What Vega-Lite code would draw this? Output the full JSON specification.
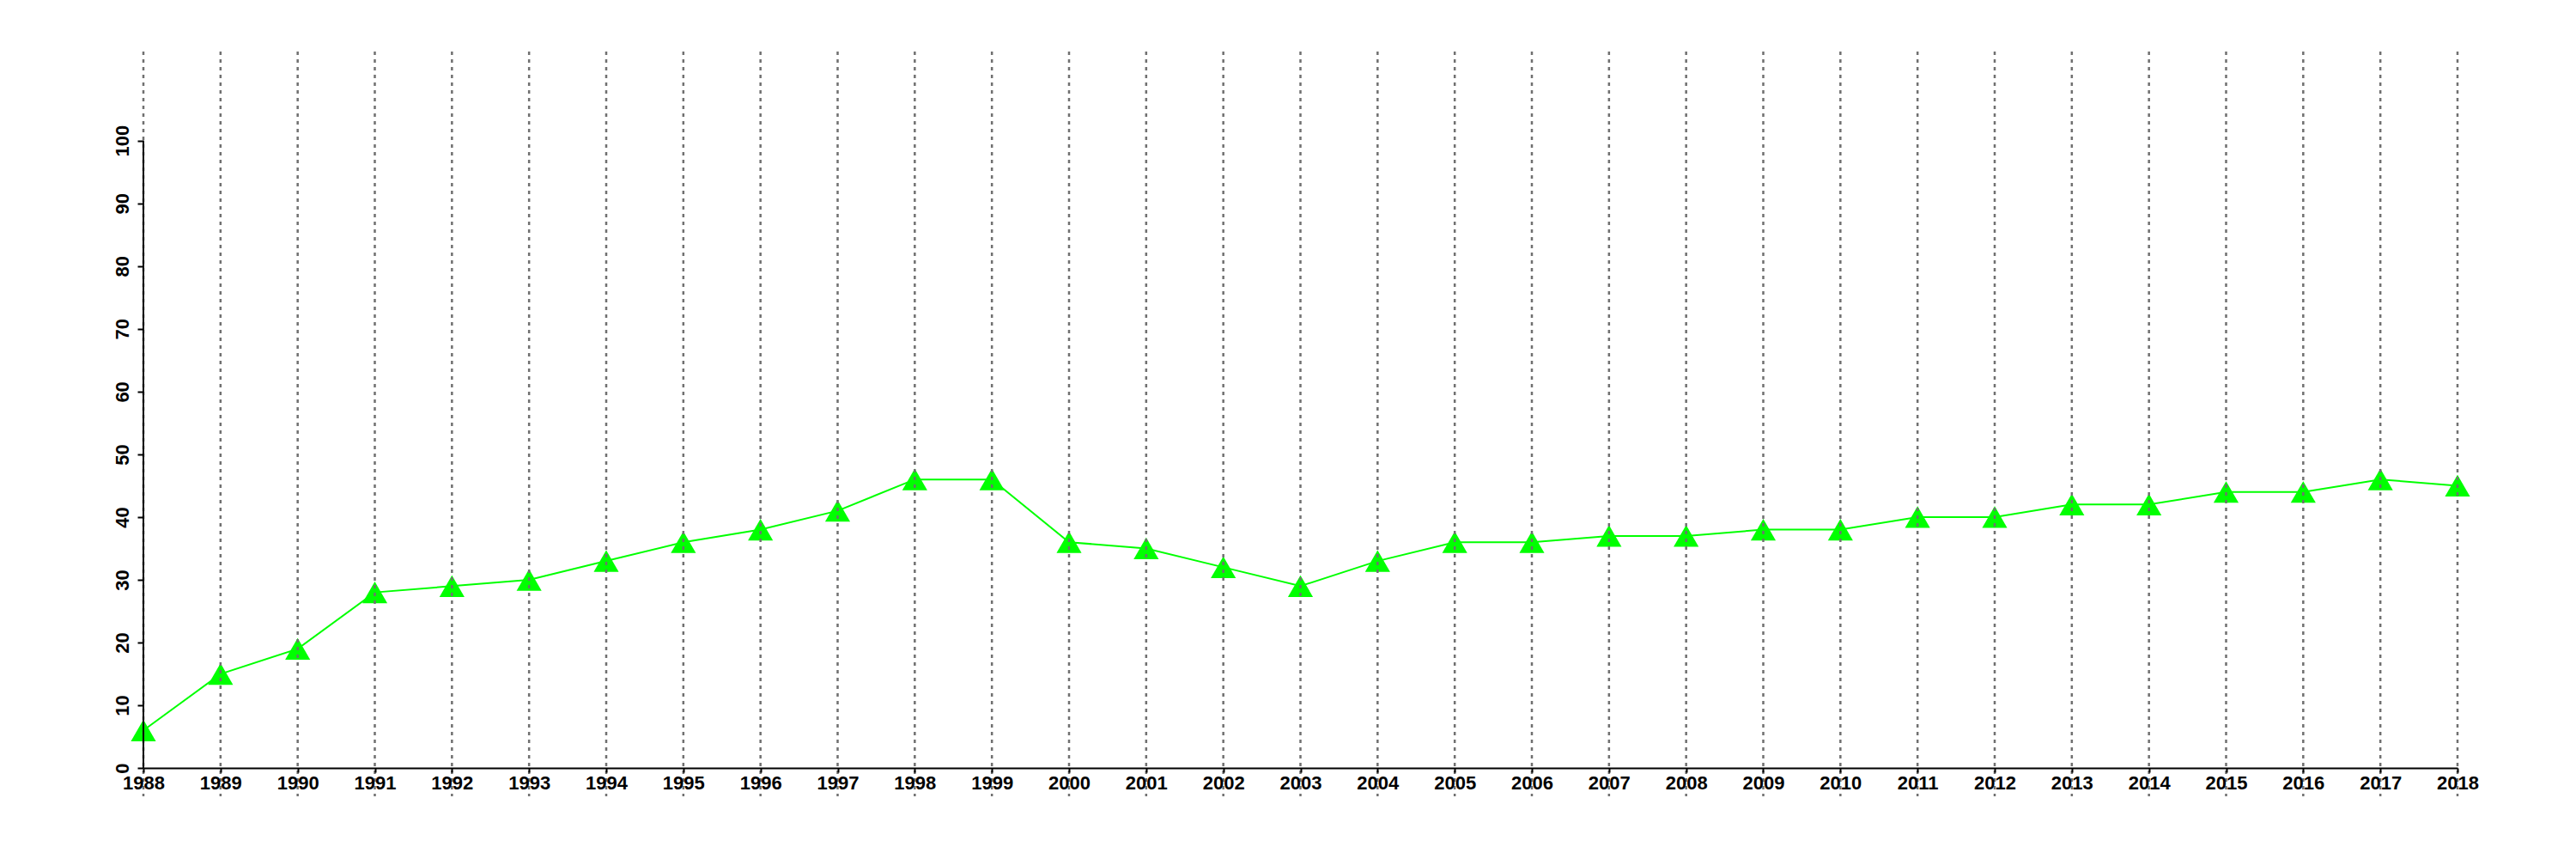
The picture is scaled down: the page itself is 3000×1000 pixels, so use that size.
{
  "$schema": "https://vega.github.io/schema/vega-lite/v6.json",
  "width": 2695,
  "height": 867,
  "autosize": {"type": "none"},
  "padding": {"left": 167, "top": 60, "right": 138, "bottom": 73},
  "background": "white",
  "config": {
    "view": {"stroke": null},
    "font": "Liberation Sans"
  },
  "datasets": {
    "series": [
      {"year": 1988, "value": 6},
      {"year": 1989, "value": 15},
      {"year": 1990, "value": 19},
      {"year": 1991, "value": 28},
      {"year": 1992, "value": 29},
      {"year": 1993, "value": 30},
      {"year": 1994, "value": 33},
      {"year": 1995, "value": 36},
      {"year": 1996, "value": 38},
      {"year": 1997, "value": 41},
      {"year": 1998, "value": 46},
      {"year": 1999, "value": 46},
      {"year": 2000, "value": 36},
      {"year": 2001, "value": 35},
      {"year": 2002, "value": 32},
      {"year": 2003, "value": 29},
      {"year": 2004, "value": 33},
      {"year": 2005, "value": 36},
      {"year": 2006, "value": 36},
      {"year": 2007, "value": 37},
      {"year": 2008, "value": 37},
      {"year": 2009, "value": 38},
      {"year": 2010, "value": 38},
      {"year": 2011, "value": 40},
      {"year": 2012, "value": 40},
      {"year": 2013, "value": 42},
      {"year": 2014, "value": 42},
      {"year": 2015, "value": 44},
      {"year": 2016, "value": 44},
      {"year": 2017, "value": 46},
      {"year": 2018, "value": 45}
    ],
    "yaxis": [{"year": 1988, "lo": 0, "hi": 100}]
  },
  "layer": [
    {
      "data": {"name": "series"},
      "mark": {"type": "line", "color": "#00FF00", "strokeWidth": 2},
      "encoding": {
        "x": {
          "field": "year",
          "type": "quantitative",
          "scale": {"domain": [1988, 2018], "nice": false, "zero": false},
          "axis": {
            "title": null,
            "values": [1988,1989,1990,1991,1992,1993,1994,1995,1996,1997,1998,1999,2000,2001,2002,2003,2004,2005,2006,2007,2008,2009,2010,2011,2012,2013,2014,2015,2016,2017,2018],
            "format": "d",
            "grid": false,
            "offset": -33,
            "domainColor": "black",
            "domainWidth": 2,
            "tickColor": "black",
            "tickWidth": 2,
            "tickSize": 5,
            "labelFont": "Liberation Sans",
            "labelFontWeight": "bold",
            "labelFontSize": 22,
            "labelColor": "black",
            "labelPadding": 2,
            "labelFlush": false,
            "labelOverlap": false,
            "zindex": 2
          }
        },
        "y": {
          "field": "value",
          "type": "quantitative",
          "scale": {"domain": [-4.5, 114.2], "nice": false, "zero": false},
          "axis": {
            "title": null,
            "values": [0,10,20,30,40,50,60,70,80,90,100],
            "grid": false,
            "domain": false,
            "tickColor": "black",
            "tickWidth": 2,
            "tickSize": 7,
            "labelFont": "Liberation Sans",
            "labelFontWeight": "bold",
            "labelFontSize": 22,
            "labelColor": "black",
            "labelAngle": -90,
            "labelAlign": "center",
            "labelBaseline": "bottom",
            "labelPadding": 6,
            "labelFlush": false,
            "labelOverlap": false,
            "zindex": 2
          }
        }
      }
    },
    {
      "data": {"name": "series"},
      "mark": {"type": "point", "shape": "triangle-up", "filled": true, "color": "#00FF00", "opacity": 1, "size": 850},
      "encoding": {
        "x": {"field": "year", "type": "quantitative"},
        "y": {"field": "value", "type": "quantitative"}
      }
    },
    {
      "data": {"name": "series"},
      "mark": {"type": "rule", "color": "#707070", "strokeWidth": 2.5, "strokeDash": [4, 5]},
      "encoding": {
        "x": {"field": "year", "type": "quantitative"}
      }
    },
    {
      "data": {"name": "yaxis"},
      "mark": {"type": "rule", "color": "black", "strokeWidth": 2},
      "encoding": {
        "x": {"field": "year", "type": "quantitative"},
        "y": {"field": "lo", "type": "quantitative"},
        "y2": {"field": "hi"}
      }
    }
  ]
}
